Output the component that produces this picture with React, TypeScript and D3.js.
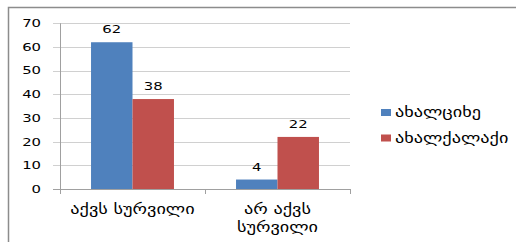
import React, { useEffect, useRef } from "react";
import * as d3 from "d3";

const categories = ["აქვს სურვილი", "არ აქვს სურვილი"];
const categoryLines = [["აქვს სურვილი"], ["არ აქვს", "სურვილი"]];
const seriesNames = ["ახალციხე", "ახალქალაქი"];
const akhaltsikhe = [62, 4];
const akhalkalaki = [38, 22];
const yTicks = [0, 10, 20, 30, 40, 50, 60, 70];
const colors = ["#4F81BD", "#C0504D"];

const W = 517;
const H = 242;
const FONT = "'DejaVu Sans', Verdana, sans-serif";
const SX = 1.35;

export default function App() {
  const ref = useRef<SVGSVGElement>(null);
  useEffect(() => {
    const svg = d3.select(ref.current);
    svg.selectAll("*").remove();

    const txt = (x: number, y: number, s: string, anchor: string, size = 12, dy = "0") =>
      svg.append("text").attr("transform", `translate(${x},${y}) scale(${SX},1)`)
        .attr("dy", dy).attr("text-anchor", anchor).attr("font-family", FONT)
        .attr("font-size", size).attr("fill", "#000").text(s);

    const left = 60, right = 350, top = 23.3, bottom = 189;
    const y = d3.scaleLinear().domain([0, 70]).range([bottom, top]);
    const x0 = d3.scaleBand<string>().domain(categories).range([left, right]).padding(0);
    const x1 = d3.scaleBand<string>().domain(seriesNames)
      .range([x0.bandwidth() * 0.214, x0.bandwidth() * 0.786]).padding(0);

    // border
    svg.append("path").attr("d", `M8.5,${H} L8.5,7.5 L516,7.5`)
      .attr("fill", "none").attr("stroke", "#8c8c8c").attr("stroke-width", 1.5);

    // gridlines
    svg.append("g").selectAll("line").data(yTicks.filter(t => t > 0)).join("line")
      .attr("x1", left - 7).attr("x2", right)
      .attr("y1", d => Math.round(y(d)) + 0.5).attr("y2", d => Math.round(y(d)) + 0.5)
      .attr("stroke", "#d0d0d0").attr("stroke-width", 1);

    // tick labels
    yTicks.forEach(t => txt(41, y(t), String(t), "end", 11, "0.35em"));

    const series = [akhaltsikhe, akhalkalaki];
    categories.forEach((c, ci) => {
      series.forEach((vals, si) => {
        const bx = x0(c)! + x1(seriesNames[si])!;
        const v = vals[ci];
        svg.append("rect").attr("x", bx).attr("y", y(v))
          .attr("width", x1.bandwidth()).attr("height", y(0) - y(v))
          .attr("fill", colors[si]);
        txt(bx + x1.bandwidth() / 2, y(v) - 9, String(v), "middle", 11);
      });
    });

    // axes
    svg.append("line").attr("x1", left - 7).attr("x2", right).attr("y1", bottom + 0.5).attr("y2", bottom + 0.5)
      .attr("stroke", "#a0a0a0");
    svg.append("line").attr("x1", left + 0.5).attr("x2", left + 0.5).attr("y1", top).attr("y2", bottom + 5)
      .attr("stroke", "#a0a0a0");
    [1, 2].forEach(i => {
      const tx = Math.round(left + x0.step() * i) + 0.5;
      svg.append("line").attr("x1", tx).attr("x2", tx).attr("y1", bottom).attr("y2", bottom + 5)
        .attr("stroke", "#a0a0a0");
    });

    // category labels
    categories.forEach((c, ci) => {
      const cx = x0(c)! + x0.bandwidth() / 2;
      categoryLines[ci].forEach((ln, li) => {
        txt(cx, 214 + li * 18, ln, "middle", 13.5);
      });
    });

    // legend
    seriesNames.forEach((s, si) => {
      const ly = 112.5 + si * 25.5;
      svg.append("rect").attr("x", 381).attr("y", ly - 3.5).attr("width", 10).attr("height", 7)
        .attr("fill", colors[si]);
      txt(395, ly, s, "start", 13.5, "0.35em");
    });
  }, []);
  return (
    <svg ref={ref} width={W} height={H} style={{ position: "absolute", left: 0, top: 0, background: "#fff" }} />
  );
}
